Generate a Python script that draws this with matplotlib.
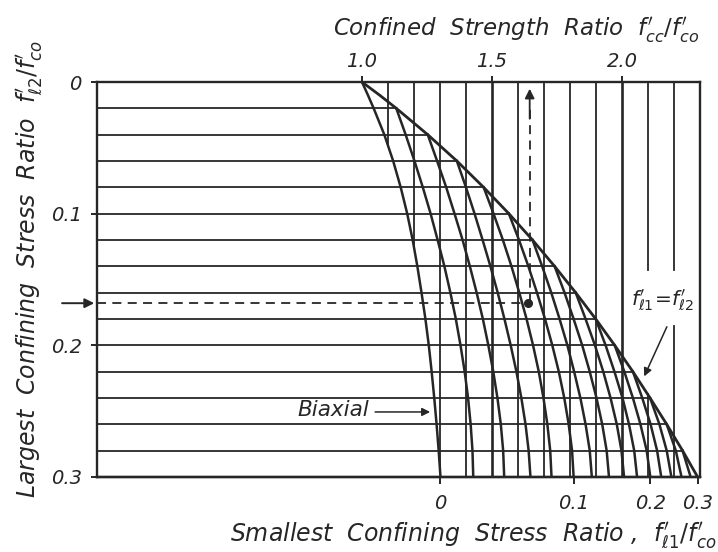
import matplotlib
matplotlib.use("Agg")
import matplotlib.pyplot as plt
import numpy as np

plt.rcParams['font.family'] = ['DejaVu Sans']
plt.rcParams['mathtext.fontset'] = 'dejavusans'

# ---------------- data ----------------
# largest confining stress ratio f'l2/f'co : horizontal grid levels
fl2_levels = [0.00, 0.02, 0.04, 0.06, 0.08, 0.10, 0.12, 0.14,
              0.16, 0.18, 0.20, 0.22, 0.24, 0.26, 0.28, 0.30]

# equal confinement envelope f'l1 = f'l2
envelope_fl2 = [0.00, 0.01, 0.02, 0.04, 0.06, 0.08, 0.10, 0.12, 0.14,
                0.16, 0.18, 0.20, 0.22, 0.24, 0.26, 0.28, 0.30]
envelope_ratio = [1.000, 1.068, 1.132, 1.253, 1.365, 1.468, 1.565, 1.656, 1.741,
                  1.822, 1.899, 1.972, 2.042, 2.108, 2.172, 2.233, 2.291]

# biaxial curve f'l1 = 0
biaxial_fl2 = [0.00, 0.01, 0.02, 0.04, 0.06, 0.08, 0.10, 0.12, 0.14,
               0.16, 0.18, 0.20, 0.22, 0.24, 0.26, 0.28, 0.30]
biaxial_ratio = [1.000, 1.023, 1.045, 1.086, 1.120, 1.149, 1.174, 1.195, 1.213,
                 1.229, 1.244, 1.257, 1.268, 1.278, 1.287, 1.295, 1.302]

# curves of constant smallest confining stress f'l1/f'co (values at fl2_levels >= f'l1)
ratio_fl1_002 = [1.132, 1.168, 1.202, 1.234, 1.264, 1.291, 1.317, 1.340, 1.361, 1.379, 1.395, 1.408, 1.418, 1.425, 1.428]
ratio_fl1_004 = [1.253, 1.289, 1.324, 1.356, 1.387, 1.415, 1.441, 1.465, 1.486, 1.505, 1.521, 1.534, 1.543, 1.547]
ratio_fl1_006 = [1.365, 1.400, 1.433, 1.464, 1.494, 1.522, 1.548, 1.572, 1.594, 1.613, 1.629, 1.641, 1.648]
ratio_fl1_008 = [1.468, 1.506, 1.542, 1.575, 1.605, 1.633, 1.658, 1.680, 1.698, 1.713, 1.724, 1.729]
ratio_fl1_010 = [1.565, 1.604, 1.640, 1.673, 1.704, 1.732, 1.757, 1.778, 1.795, 1.808, 1.814]
ratio_fl1_012 = [1.656, 1.693, 1.728, 1.760, 1.790, 1.816, 1.840, 1.860, 1.876, 1.884]
ratio_fl1_014 = [1.741, 1.779, 1.814, 1.847, 1.876, 1.902, 1.924, 1.941, 1.950]
ratio_fl1_016 = [1.822, 1.860, 1.896, 1.928, 1.956, 1.980, 1.998, 2.008]
ratio_fl1_018 = [1.899, 1.937, 1.971, 2.002, 2.027, 2.047, 2.058]
ratio_fl1_020 = [1.972, 2.009, 2.042, 2.071, 2.095, 2.109]
ratio_fl1_022 = [2.042, 2.078, 2.110, 2.135, 2.151]
ratio_fl1_024 = [2.108, 2.144, 2.172, 2.190]
ratio_fl1_026 = [2.172, 2.207, 2.229]
ratio_fl1_028 = [2.233, 2.264]

# vertical grid of confined strength ratio f'cc/f'co
vgrid_ratio = [1.1, 1.2, 1.3, 1.4, 1.5, 1.6, 1.7, 1.8, 1.9, 2.0, 2.1, 2.2]
vgrid_major = [1.5, 2.0]

top_ticks = [1.0, 1.5, 2.0]
top_labels = ["1.0", "1.5", "2.0"]
left_ticks = [0.0, 0.1, 0.2, 0.3]
left_labels = ["0", "0.1", "0.2", "0.3"]
bottom_labels = ["0", "0.1", "0.2", "0.3"]

# worked example (dashed)
example_fl2 = 0.168
example_ratio = 1.645

# ---------------- figure ----------------
ink = '#262626'
fig = plt.figure(figsize=(7.18, 5.52), dpi=100)
ax = fig.add_axes([97/718, 1-477/552, 603/718, 395/552])
XMIN, XMAX = -0.019, 2.30
ax.set_xlim(XMIN, XMAX)
ax.set_ylim(0.30, 0.0)

grid_lw = 1.3
curve_lw = 1.8

# horizontal grid lines: from left border to the envelope
for lvl in fl2_levels[1:-1]:
    xe = np.interp(lvl, envelope_fl2, envelope_ratio)
    ax.plot([XMIN, xe], [lvl, lvl], color=ink, lw=grid_lw, solid_capstyle='butt')

# vertical grid lines: from top border down to the biaxial curve (or bottom)
gaps = {2.1: (0.143, 0.237), 2.2: (0.143, 0.185)}
for r in vgrid_ratio:
    if r < biaxial_ratio[-1]:
        yend = float(np.interp(r, biaxial_ratio, biaxial_fl2))
    else:
        yend = 0.30
    lw = 1.9 if r in vgrid_major else grid_lw
    if r in gaps:
        g0, g1 = gaps[r]
        ax.plot([r, r], [0.0, g0], color=ink, lw=lw)
        ax.plot([r, r], [g1, yend], color=ink, lw=lw)
    else:
        ax.plot([r, r], [0.0, yend], color=ink, lw=lw)

# curves
ax.plot(biaxial_ratio, biaxial_fl2, color=ink, lw=curve_lw)
for vals in [ratio_fl1_002, ratio_fl1_004, ratio_fl1_006, ratio_fl1_008, ratio_fl1_010,
             ratio_fl1_012, ratio_fl1_014, ratio_fl1_016, ratio_fl1_018, ratio_fl1_020,
             ratio_fl1_022, ratio_fl1_024, ratio_fl1_026, ratio_fl1_028]:
    ax.plot(vals, fl2_levels[-len(vals):], color=ink, lw=curve_lw)
ax.plot(envelope_ratio, envelope_fl2, color=ink, lw=curve_lw + 0.2)

# dashed example
dash = (0, (5, 3.5))
ax.plot([XMIN, example_ratio], [example_fl2, example_fl2], color=ink, lw=1.3, ls=dash)
ax.plot([example_ratio, example_ratio], [example_fl2, 0.02], color=ink, lw=1.3, ls=dash)
ax.plot([example_ratio - 0.007], [example_fl2], 'o', color=ink, ms=5.5)
ax.annotate('', xy=(example_ratio, 0.003), xytext=(example_ratio, 0.03),
            arrowprops=dict(arrowstyle='-|>', color=ink, lw=1.3, mutation_scale=14))
ax.annotate('', xy=(XMIN, example_fl2), xytext=(XMIN - 0.145, example_fl2),
            annotation_clip=False,
            arrowprops=dict(arrowstyle='-|>', color=ink, lw=1.4, mutation_scale=14))

# labels inside
ax.text(0.75, 0.249, 'Biaxial', style='italic', fontsize=15.5, color=ink,
        ha='left', va='center')
ax.annotate('', xy=(1.273, 0.2506), xytext=(1.04, 0.2506),
            arrowprops=dict(arrowstyle='-|>', color=ink, lw=1.1, mutation_scale=12))
ax.text(2.154, 0.1655, r"$f^{\prime}_{\ell 1}\!=\!f^{\prime}_{\ell 2}$", fontsize=14.5,
        color=ink, ha='center', va='center')
ax.annotate('', xy=(2.081, 0.2255), xytext=(2.177, 0.184),
            arrowprops=dict(arrowstyle='-|>', color=ink, lw=1.1, mutation_scale=12))

# axes frame and ticks
for sp in ax.spines.values():
    sp.set_color(ink)
    sp.set_linewidth(1.7)

ax.xaxis.set_ticks_position('top')
ax.set_xticks(top_ticks, top_labels)
ax.set_yticks(left_ticks, left_labels)
ax.tick_params(axis='x', direction='out', length=4, width=1.4, pad=4,
               labelsize=14, colors=ink)
ax.tick_params(axis='y', direction='out', length=4, width=1.4, pad=7,
               labelsize=14, colors=ink)
for lab in ax.get_xticklabels() + ax.get_yticklabels():
    lab.set_style('italic')

bottom_positions = [biaxial_ratio[-1], ratio_fl1_010[-1], ratio_fl1_020[-1], envelope_ratio[-1]]
sec = ax.secondary_xaxis('bottom')
sec.set_xticks(bottom_positions, bottom_labels)
sec.tick_params(direction='out', length=5, width=1.4, pad=7, labelsize=14, colors=ink)
sec.spines['bottom'].set_color(ink)
sec.spines['bottom'].set_linewidth(1.7)
for lab in sec.get_xticklabels():
    lab.set_style('italic')

# titles
fig.text(333/718, 1 - 36/552,
         r"Confined  Strength  Ratio  $f^{\prime}_{cc}/f^{\prime}_{co}$",
         ha='left', va='baseline', fontsize=16.5, style='italic', color=ink)
fig.text(230/718, 1 - 541/552,
         r"Smallest  Confining  Stress  Ratio ,  $f^{\prime}_{\ell 1}/f^{\prime}_{co}$",
         ha='left', va='baseline', fontsize=17, style='italic', color=ink)
fig.text(29/718, 1 - 269/552,
         r"Largest  Confining  Stress  Ratio  $f^{\prime}_{\ell 2}/f^{\prime}_{co}$",
         ha='center', va='center', rotation=90, fontsize=17, style='italic', color=ink)

fig.savefig('out.png', dpi=100, facecolor='white')
